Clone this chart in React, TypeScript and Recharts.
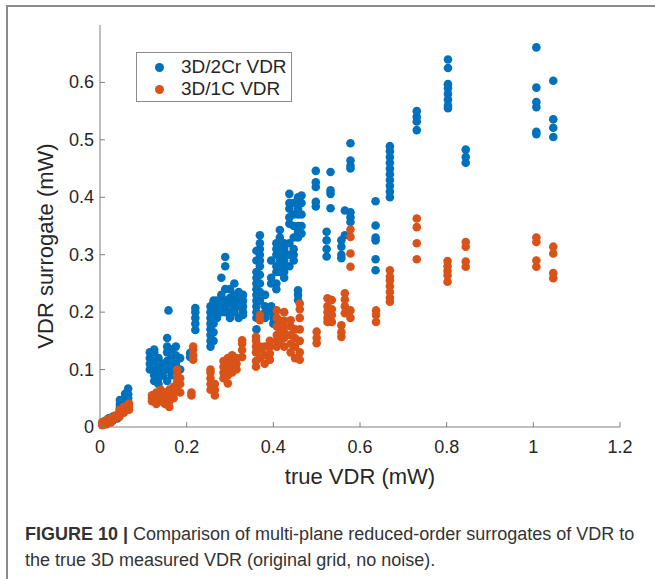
import { Scatter, ScatterChart, XAxis, YAxis } from "recharts";

// valores (x = true VDR, y = surrogate), agrupados por columna
const X_TICKS = [0, 0.2, 0.4, 0.6, 0.8, 1, 1.2];
const Y_TICKS = [0, 0.1, 0.2, 0.3, 0.4, 0.5, 0.6];

type Column = [number, number[]];

const VDR_2CR: Column[] = [
  [0.01, [0.005, 0.01]],
  [0.02, [0.01, 0.015]],
  [0.03, [0.012, 0.018]],
  [0.04, [0.015, 0.02]],
  [0.046, [0.035, 0.04, 0.047]],
  [0.058, [0.045, 0.05, 0.058]],
  [0.065, [0.05, 0.057, 0.067]],
  [0.115, [0.1, 0.11, 0.12, 0.13]],
  [0.125, [0.08, 0.09, 0.1, 0.115, 0.13, 0.135]],
  [0.135, [0.075, 0.085, 0.095, 0.105, 0.12]],
  [0.145, [0.09, 0.1, 0.11]],
  [0.155, [0.08, 0.1, 0.115, 0.13, 0.14, 0.155]],
  [0.158, [0.203]],
  [0.165, [0.09, 0.105, 0.12, 0.135]],
  [0.175, [0.1, 0.11, 0.125, 0.14]],
  [0.185, [0.1, 0.12]],
  [0.208, [0.122, 0.129]],
  [0.22, [0.169, 0.18, 0.19, 0.2, 0.207]],
  [0.255, [0.14, 0.15, 0.16, 0.17, 0.18, 0.19, 0.2, 0.21]],
  [0.262, [0.15, 0.165, 0.18, 0.2, 0.22]],
  [0.27, [0.19, 0.2, 0.21, 0.22]],
  [0.28, [0.2, 0.21, 0.22, 0.23, 0.26]],
  [0.289, [0.2, 0.21, 0.22, 0.24, 0.28, 0.296]],
  [0.3, [0.19, 0.2, 0.215, 0.225, 0.24]],
  [0.31, [0.2, 0.21, 0.22, 0.23, 0.25]],
  [0.32, [0.19, 0.21, 0.22, 0.235]],
  [0.33, [0.195, 0.2, 0.21, 0.22, 0.23]],
  [0.361, [0.17, 0.19, 0.2, 0.21, 0.22, 0.23, 0.24, 0.25, 0.26, 0.27, 0.29, 0.307]],
  [0.369, [0.22, 0.235, 0.25, 0.265, 0.28, 0.29, 0.3, 0.31, 0.32, 0.334]],
  [0.381, [0.19, 0.2, 0.21, 0.23]],
  [0.395, [0.2, 0.21, 0.25, 0.26, 0.29]],
  [0.4, [0.18, 0.19, 0.2]],
  [0.407, [0.24, 0.25, 0.27, 0.28, 0.3, 0.31, 0.32]],
  [0.415, [0.27, 0.28, 0.29, 0.3, 0.31, 0.33, 0.343]],
  [0.425, [0.26, 0.27, 0.28, 0.29, 0.3, 0.31, 0.32]],
  [0.437, [0.28, 0.3, 0.32, 0.354, 0.365, 0.38, 0.39, 0.406]],
  [0.447, [0.29, 0.3, 0.31, 0.33, 0.35, 0.37, 0.39]],
  [0.457, [0.221, 0.23, 0.238, 0.33, 0.34, 0.35, 0.37, 0.38, 0.39, 0.4]],
  [0.465, [0.337, 0.35, 0.37, 0.39, 0.403]],
  [0.498, [0.384, 0.392, 0.418, 0.426, 0.446]],
  [0.523, [0.297, 0.31, 0.325, 0.34]],
  [0.532, [0.381, 0.406, 0.412, 0.444]],
  [0.557, [0.294, 0.3, 0.314, 0.325]],
  [0.565, [0.334, 0.377]],
  [0.578, [0.357, 0.365, 0.374, 0.45, 0.455, 0.464, 0.494]],
  [0.636, [0.273, 0.292, 0.325, 0.33, 0.351, 0.393]],
  [0.669, [0.4, 0.41, 0.42, 0.43, 0.44, 0.45, 0.46, 0.47, 0.48, 0.489]],
  [0.731, [0.517, 0.532, 0.54, 0.55]],
  [0.803, [0.555, 0.56, 0.57, 0.58, 0.59, 0.597, 0.625, 0.64]],
  [0.844, [0.46, 0.47, 0.483]],
  [1.007, [0.51, 0.514, 0.557, 0.566, 0.591, 0.661]],
  [1.046, [0.505, 0.521, 0.536, 0.603]],
];

const VDR_1C: Column[] = [
  [0.005, [0.003, 0.008]],
  [0.015, [0.005, 0.01, 0.012]],
  [0.025, [0.008, 0.012, 0.015]],
  [0.035, [0.015, 0.02]],
  [0.045, [0.018, 0.025, 0.03]],
  [0.055, [0.025, 0.03, 0.035]],
  [0.067, [0.03, 0.035, 0.041]],
  [0.12, [0.045, 0.05, 0.055]],
  [0.13, [0.04, 0.05, 0.06]],
  [0.14, [0.045, 0.055, 0.06, 0.065]],
  [0.15, [0.04, 0.05, 0.06]],
  [0.16, [0.035, 0.045, 0.055, 0.065]],
  [0.17, [0.05, 0.06, 0.07]],
  [0.178, [0.07, 0.08, 0.09, 0.1]],
  [0.185, [0.06, 0.075, 0.085]],
  [0.211, [0.055, 0.06]],
  [0.215, [0.117, 0.125, 0.135, 0.14]],
  [0.255, [0.065, 0.075, 0.085, 0.095, 0.1]],
  [0.265, [0.055, 0.065, 0.075]],
  [0.285, [0.085, 0.095, 0.105, 0.115]],
  [0.295, [0.076, 0.09, 0.1, 0.11, 0.12]],
  [0.305, [0.095, 0.105, 0.115, 0.125]],
  [0.315, [0.1, 0.11, 0.12]],
  [0.328, [0.122, 0.134, 0.145, 0.151]],
  [0.36, [0.105, 0.115, 0.13, 0.14, 0.15, 0.157]],
  [0.369, [0.12, 0.135, 0.14, 0.186, 0.195]],
  [0.38, [0.11, 0.125, 0.14]],
  [0.392, [0.117, 0.128, 0.14, 0.15]],
  [0.408, [0.14, 0.15, 0.16, 0.175, 0.19, 0.203]],
  [0.415, [0.145, 0.16, 0.17, 0.185]],
  [0.425, [0.14, 0.155, 0.165, 0.175, 0.185, 0.2]],
  [0.44, [0.13, 0.145, 0.16, 0.175, 0.186]],
  [0.45, [0.12, 0.14, 0.155, 0.17]],
  [0.461, [0.117, 0.13, 0.15, 0.17, 0.19, 0.205, 0.215]],
  [0.5, [0.146, 0.155, 0.166]],
  [0.525, [0.183, 0.19, 0.2, 0.21, 0.224]],
  [0.535, [0.183, 0.195, 0.205, 0.221]],
  [0.557, [0.157, 0.165, 0.177]],
  [0.565, [0.198, 0.21, 0.222, 0.233]],
  [0.578, [0.19, 0.203, 0.279, 0.302, 0.331, 0.344]],
  [0.637, [0.183, 0.195, 0.203]],
  [0.669, [0.218, 0.225, 0.235, 0.245, 0.255, 0.262, 0.273]],
  [0.731, [0.292, 0.32, 0.348, 0.363]],
  [0.802, [0.253, 0.264, 0.272, 0.28, 0.289]],
  [0.844, [0.279, 0.288, 0.314, 0.322]],
  [1.007, [0.279, 0.29, 0.322, 0.33]],
  [1.046, [0.259, 0.268, 0.302, 0.314]],
];

const SERIES = [
  { name: "3D/2Cr VDR", color: "#0072BD", cols: VDR_2CR },
  { name: "3D/1C VDR", color: "#D95319", cols: VDR_1C },
];

const FONT = '"Liberation Sans", Arial, Helvetica, sans-serif';
const TEXT = "#262626";
const AXIS = "#7f7f7f";

const toPoints = (cols: Column[]) =>
  cols.flatMap(([x, ys]) => ys.map((y) => ({ x, y })));

function XTick({ x, y, payload }: any) {
  return (
    <g>
      <line x1={x} y1={y} x2={x} y2={y - 5} stroke={AXIS} />
      <text x={x} y={y + 26} textAnchor="middle" fontSize={18} fill={TEXT} fontFamily={FONT}>
        {payload.value}
      </text>
    </g>
  );
}

function YTick({ x, y, payload }: any) {
  return (
    <g>
      <line x1={x} y1={y} x2={x + 5} y2={y} stroke={AXIS} />
      <text x={x - 6} y={y + 6} textAnchor="end" fontSize={18} fill={TEXT} fontFamily={FONT}>
        {payload.value}
      </text>
    </g>
  );
}

// leyenda fuera del layout de Recharts para no encoger el área del gráfico
function LegendBox() {
  return (
    <div
      style={{
        position: "absolute",
        left: 136,
        top: 52,
        border: "1px solid #8c8c8c",
        background: "#fff",
        width: 156,
        height: 50,
        boxSizing: "border-box",
        padding: "3px 0 0 18px",
        fontFamily: FONT,
        fontSize: 19,
        color: TEXT,
      }}
    >
      {SERIES.map((s) => (
        <div key={s.name} style={{ display: "flex", alignItems: "center", height: 22 }}>
          <span
            style={{
              width: 9,
              height: 9,
              borderRadius: 5,
              background: s.color,
              marginRight: 17,
            }}
          />
          {s.name}
        </div>
      ))}
    </div>
  );
}

export default function App() {
  return (
    <div
      style={{
        position: "absolute",
        left: 0,
        top: 0,
        width: 655,
        height: 579,
        overflow: "hidden",
        background: "#fff",
      }}
    >
      <div
        style={{
          position: "absolute",
          left: 6,
          top: 5,
          width: 800,
          height: 800,
          borderTop: "2px solid #8a8a8a",
          borderLeft: "2px solid #8a8a8a",
        }}
      />
      <div style={{ position: "absolute", left: 0, top: 0 }}>
        <ScatterChart
          width={655}
          height={500}
          margin={{ top: 25, right: 35, bottom: 20, left: 0 }}
        >
          <XAxis
            type="number"
            dataKey="x"
            domain={[0, 1.2]}
            ticks={X_TICKS}
            tickSize={0}
            tickMargin={0}
            tickLine={false}
            tick={<XTick />}
            axisLine={{ stroke: AXIS }}
            height={53}
            label={({ viewBox }: any) => (
              <text
                x={viewBox.x + viewBox.width / 2}
                y={viewBox.y + 57}
                textAnchor="middle"
                fontSize={22}
                fill={TEXT}
                fontFamily={FONT}
              >
                true VDR (mW)
              </text>
            )}
          />
          <YAxis
            type="number"
            dataKey="y"
            domain={[0, 0.7]}
            ticks={Y_TICKS}
            tickSize={0}
            tickMargin={0}
            tickLine={false}
            tick={<YTick />}
            axisLine={{ stroke: AXIS }}
            width={100}
            label={({ viewBox }: any) => {
              const cx = 45;
              const cy = viewBox.y + viewBox.height / 2 + 20;
              return (
                <text
                  x={cx}
                  y={cy}
                  transform={`rotate(-90 ${cx} ${cy})`}
                  textAnchor="middle"
                  dominantBaseline="central"
                  fontSize={22}
                  fill={TEXT}
                  fontFamily={FONT}
                >
                  VDR surrogate (mW)
                </text>
              );
            }}
          />
          {SERIES.map((s) => (
            <Scatter
              key={s.name}
              name={s.name}
              data={toPoints(s.cols)}
              fill={s.color}
              isAnimationActive={false}
              shape={(p: any) => <circle cx={p.cx} cy={p.cy} r={4.3} fill={s.color} />}
            />
          ))}
        </ScatterChart>
      </div>
      <LegendBox />
      <div
        style={{
          position: "absolute",
          left: 25,
          top: 521,
          width: 630,
          fontFamily: FONT,
          fontSize: 18,
          lineHeight: "26px",
          color: "#333",
          whiteSpace: "nowrap",
        }}
      >
        <b>FIGURE 10 |</b> Comparison of multi-plane reduced-order surrogates of VDR to
        <br />
        the true 3D measured VDR (original grid, no noise).
      </div>
    </div>
  );
}
